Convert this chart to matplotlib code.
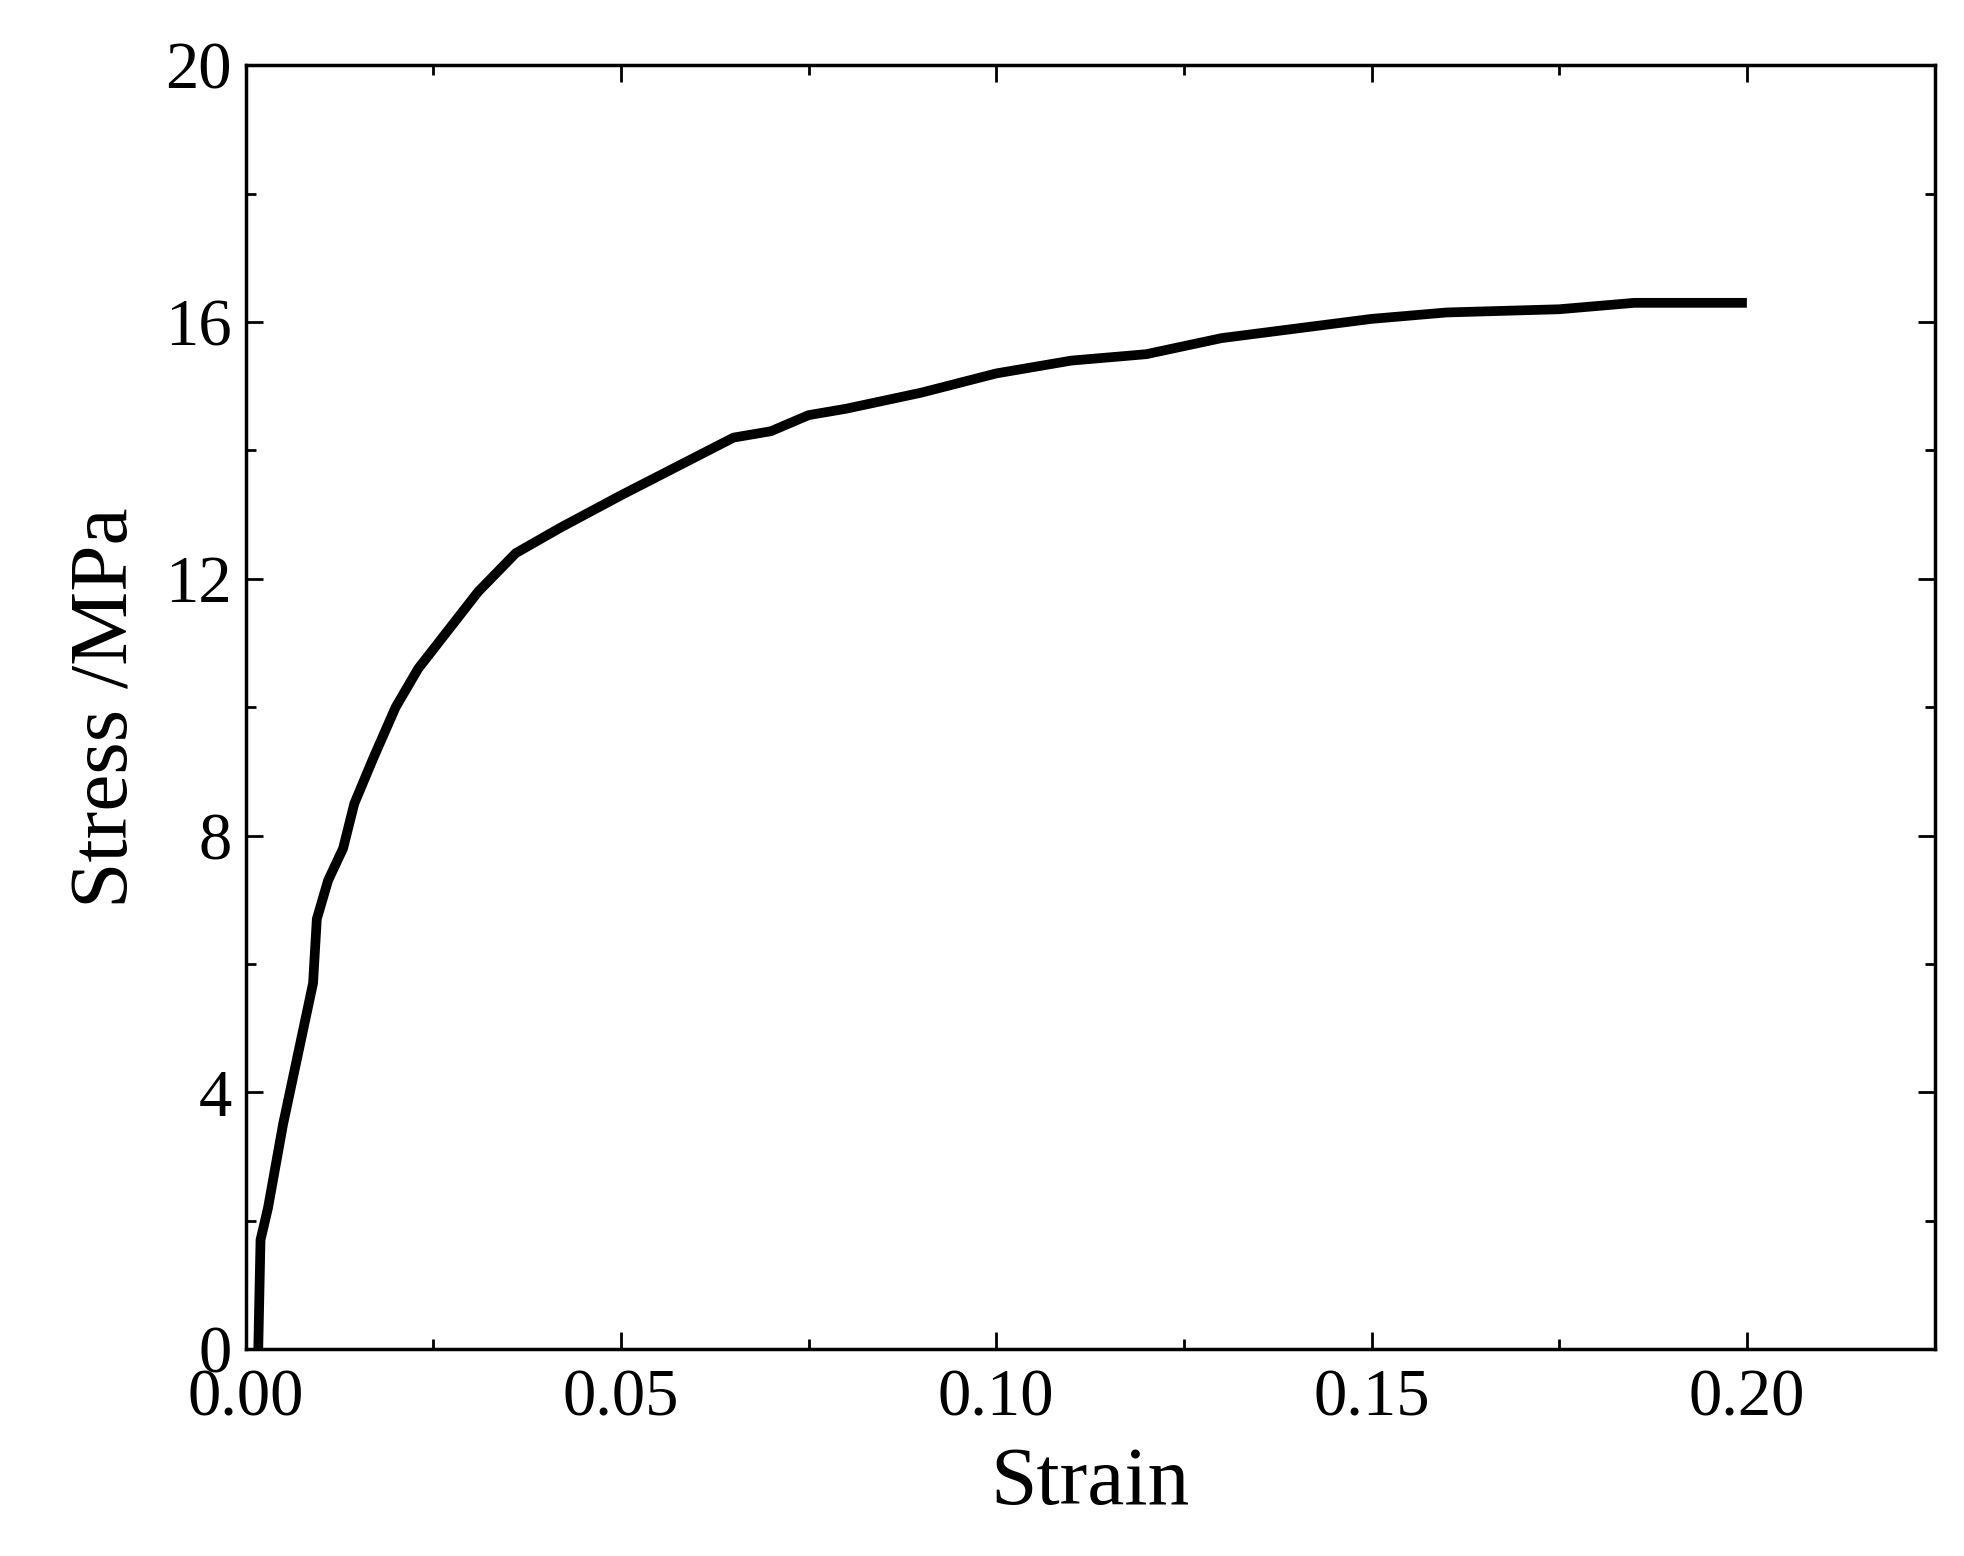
import matplotlib.pyplot as plt
from matplotlib.ticker import MultipleLocator, FormatStrFormatter

strain = [0.0017, 0.002, 0.003, 0.005, 0.007, 0.009, 0.0095, 0.011, 0.013, 0.0145,
          0.017, 0.020, 0.023, 0.027, 0.031, 0.036, 0.042, 0.050, 0.055, 0.060,
          0.065, 0.070, 0.075, 0.080, 0.090, 0.100, 0.110, 0.120, 0.130, 0.140,
          0.150, 0.160, 0.175, 0.185, 0.200]
stress = [0.0, 1.7, 2.2, 3.5, 4.6, 5.7, 6.7, 7.3, 7.8, 8.5,
          9.2, 10.0, 10.6, 11.2, 11.8, 12.4, 12.8, 13.3, 13.6, 13.9,
          14.2, 14.3, 14.55, 14.65, 14.9, 15.2, 15.4, 15.5, 15.75, 15.9,
          16.05, 16.15, 16.2, 16.3, 16.3]

plt.rcParams['font.family'] = ['Liberation Serif', 'DejaVu Serif']

fig = plt.figure(figsize=(19.64, 15.56), dpi=100)
ax = fig.add_axes([0.125, 0.133, 0.86, 0.825])
ax.plot(strain, stress, color='black', linewidth=7, solid_capstyle='butt')

ax.set_xlim(0, 0.225)
ax.set_ylim(0, 20)
ax.xaxis.set_major_locator(MultipleLocator(0.05))
ax.xaxis.set_minor_locator(MultipleLocator(0.025))
ax.yaxis.set_major_locator(MultipleLocator(4))
ax.yaxis.set_minor_locator(MultipleLocator(2))
ax.xaxis.set_major_formatter(FormatStrFormatter('%.2f'))
ax.tick_params(which='both', direction='in', top=True, right=True, width=2, labelsize=48)
ax.tick_params(axis='x', pad=14)
ax.tick_params(axis='y', pad=10)
ax.tick_params(which='major', length=12)
ax.tick_params(which='minor', length=7)
for s in ax.spines.values():
    s.set_linewidth(2.5)

ax.set_xlabel('Strain', fontsize=60, labelpad=12)
ax.set_ylabel('Stress /MPa', fontsize=60, labelpad=14)

fig.savefig('out.png', dpi=100)
